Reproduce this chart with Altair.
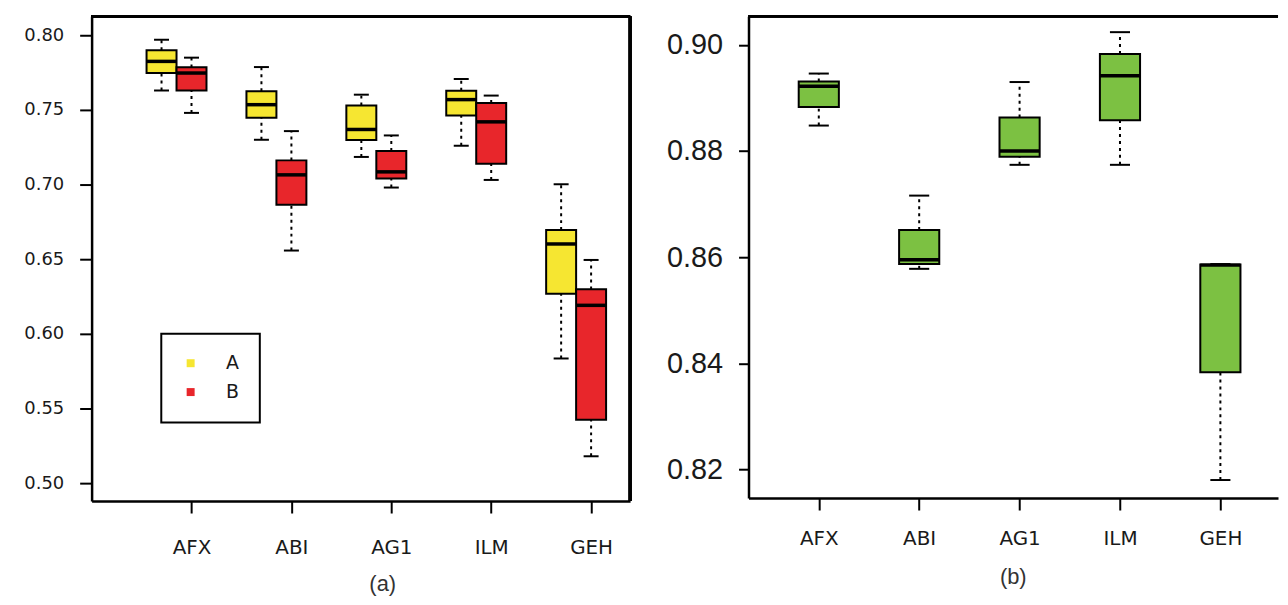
import json
import altair as alt
import pandas as pd

categories = ["AFX", "ABI", "AG1", "ILM", "GEH"]

# Panel (a): group A (yellow)
a_low = [0.763, 0.730, 0.7185, 0.726, 0.5835]
a_q1 = [0.7747, 0.7447, 0.7298, 0.7462, 0.6269]
a_med = [0.7825, 0.7535, 0.7369, 0.7569, 0.6602]
a_q3 = [0.790, 0.7625, 0.7529, 0.7629, 0.6695]
a_high = [0.797, 0.7787, 0.7602, 0.7707, 0.7002]

# Panel (a): group B (red)
b_low = [0.748, 0.6558, 0.698, 0.7031, 0.518]
b_q1 = [0.763, 0.6865, 0.704, 0.714, 0.5425]
b_med = [0.7747, 0.7065, 0.7085, 0.742, 0.6191]
b_q3 = [0.7785, 0.7162, 0.7225, 0.7547, 0.6298]
b_high = [0.785, 0.7358, 0.7329, 0.7596, 0.6495]

# Panel (b): single group (green)
g_low = [0.8848, 0.8578, 0.8774, 0.8774, 0.818]
g_q1 = [0.8883, 0.8587, 0.8789, 0.8858, 0.8383]
g_med = [0.8922, 0.8595, 0.8800, 0.8942, 0.8585]
g_q3 = [0.8931, 0.8651, 0.8863, 0.8983, 0.8586]
g_high = [0.8946, 0.8716, 0.8930, 0.9024, 0.8587]

groups = ["A", "B"]
group_colors = ["#f6e631", "#e8262b"]
green = "#7cc142"

a_ticks = [0.50, 0.55, 0.60, 0.65, 0.70, 0.75, 0.80]
b_ticks = [0.82, 0.84, 0.86, 0.88, 0.90]


def make_df(group, offset, half, low, q1, med, q3, high):
    rows = []
    for i, c in enumerate(categories):
        center = i + 1 + offset
        rows.append(dict(cat=c, group=group, low=low[i], q1=q1[i], med=med[i],
                         q3=q3[i], high=high[i], center=center,
                         boxL=center - half, boxR=center + half,
                         capL=center - half / 2, capR=center + half / 2))
    return pd.DataFrame(rows)


left_df = pd.concat([
    make_df("A", -0.3, 0.15, a_low, a_q1, a_med, a_q3, a_high),
    make_df("B", 0.0, 0.15, b_low, b_q1, b_med, b_q3, b_high),
], ignore_index=True)
right_df = make_df("G", 0.0, 0.2, g_low, g_q1, g_med, g_q3, g_high)

label_expr = json.dumps(categories) + "[datum.value - 1]"
TXT = "#1a1a1a"


def panel(df, xdom, ydom, yticks, w, h, color_enc, yfont, yfs, ytick,
          yext, xfs, xpad, caption, cap_dx, cap_off, right_border):
    xs = alt.Scale(domain=xdom, nice=False, zero=False)
    ys = alt.Scale(domain=ydom, nice=False, zero=False)
    xaxis = alt.Axis(values=[1, 2, 3, 4, 5], labelExpr=label_expr, title=None,
                     grid=False, tickSize=12, tickWidth=2, tickColor="black",
                     domainColor="black", domainWidth=2.5, labelFontSize=xfs,
                     labelFont="DejaVu Sans", labelColor=TXT,
                     labelPadding=xpad)
    yaxis = alt.Axis(values=yticks, format=".2f", title=None, grid=False,
                     tickSize=ytick, tickWidth=2, tickColor="black",
                     domainColor="black", domainWidth=2.5, labelFontSize=yfs,
                     labelFont=yfont, labelColor=TXT,
                     labelPadding=16, minExtent=yext, maxExtent=yext)
    base = alt.Chart(df)
    whisk = dict(color="black", strokeWidth=2, strokeDash=[3, 4])
    up = base.mark_rule(**whisk).encode(
        x=alt.X("center:Q", scale=xs, axis=xaxis),
        y=alt.Y("q3:Q", scale=ys, axis=yaxis), y2="high:Q")
    lo = base.mark_rule(**whisk).encode(x="center:Q", y="low:Q", y2="q1:Q")
    cap_hi = base.mark_rule(color="black", strokeWidth=2).encode(
        x="capL:Q", x2="capR:Q", y="high:Q")
    cap_lo = base.mark_rule(color="black", strokeWidth=2).encode(
        x="capL:Q", x2="capR:Q", y="low:Q")
    box = base.mark_rect(stroke="black", strokeWidth=2, opacity=1).encode(
        x="boxL:Q", x2="boxR:Q", y="q1:Q", y2="q3:Q", fill=color_enc)
    med = base.mark_rule(color="black", strokeWidth=3.5).encode(
        x="boxL:Q", x2="boxR:Q", y="med:Q")
    top = base.mark_rule(color="black", strokeWidth=2.5).encode(
        x=alt.value(0), x2=alt.value(w), y=alt.value(0))
    layers = [up, lo, cap_hi, cap_lo, box, med, top]
    if right_border:
        layers.append(base.mark_rule(color="black", strokeWidth=2.5).encode(
            x=alt.value(w), y=alt.value(0), y2=alt.value(h)))
    return alt.layer(*layers).properties(
        width=w, height=h,
        title=alt.TitleParams(caption, orient="bottom", anchor="middle",
                              dx=cap_dx, offset=cap_off, fontSize=22,
                              fontWeight="normal", font="Liberation Sans",
                              color="#333333"))


left_color = alt.Color("group:N",
                       scale=alt.Scale(domain=groups, range=group_colors),
                       legend=alt.Legend(title=None, orient="none",
                                         legendX=70, legendY=319,
                                         symbolType="square", symbolSize=64,
                                         symbolStrokeWidth=0,
                                         labelFontSize=19,
                                         labelFont="DejaVu Sans",
                                         labelColor=TXT, labelOffset=26,
                                         padding=20, rowPadding=9,
                                         strokeColor="black"))

left = panel(left_df, [0.0, 5.39], [0.488, 0.81267], a_ticks, 541, 487,
             left_color, "DejaVu Sans", 18, 12, 79, 20, 25, "(a)", 22,
             16, True)
right = panel(right_df, [0.30, 5.574], [0.8146, 0.90538], b_ticks, 532, 484,
              alt.value(green), "Liberation Sans", 29, 10, 88, 20,
              19, "(b)", 0, 18, False)

chart = alt.hconcat(left, right, spacing=29).properties(
    padding={"left": 5, "top": 5, "right": 0, "bottom": 0}
).configure_view(stroke=None).configure_legend(strokeWidth=2)

chart.save("out.html", embed_options={"renderer": "svg", "actions": False})
